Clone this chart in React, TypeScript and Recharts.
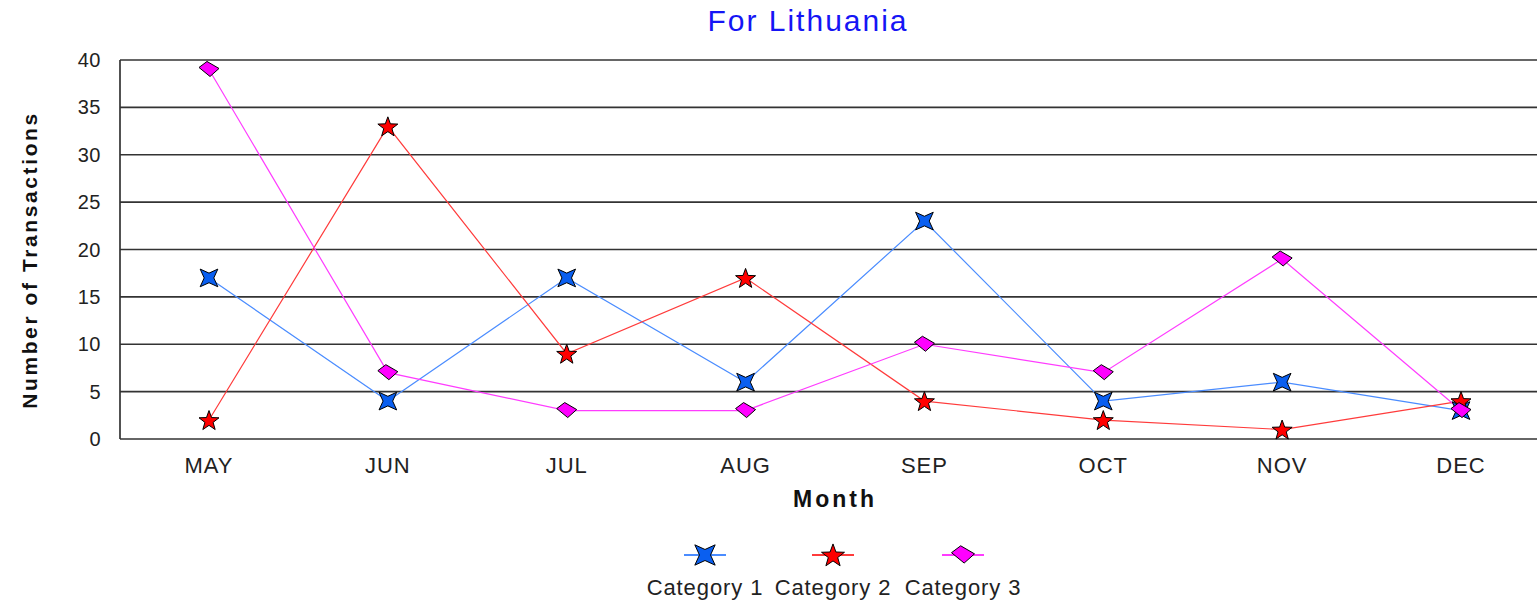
import React from 'react';
import { LineChart, Line, XAxis, YAxis, CartesianGrid, Label } from 'recharts';

const months = ['MAY', 'JUN', 'JUL', 'AUG', 'SEP', 'OCT', 'NOV', 'DEC'];
const category1 = [17, 4, 17, 6, 23, 4, 6, 3];
const category2 = [2, 33, 9, 17, 4, 2, 1, 4];
const category3 = [39, 7, 3, 3, 10, 7, 19, 3];
const yTicks = [0, 5, 10, 15, 20, 25, 30, 35, 40];
const seriesNames = ['Category 1', 'Category 2', 'Category 3'];

const data = months.map((m, i) => ({
  month: m,
  c1: category1[i],
  c2: category2[i],
  c3: category3[i],
}));

const FONT = 'Arial, "Liberation Sans", sans-serif';
const BLUE_LINE = '#4a8cff';
const BLUE_FILL = '#0a5ff0';
const RED_LINE = '#ff3b3b';
const RED_FILL = '#ff0000';
const MAG_LINE = '#ff3cff';
const MAG_FILL = '#ff00ff';

function starPoints(cx: number, cy: number, n: number, rOut: number, rIn: number, rot: number) {
  const pts: string[] = [];
  for (let i = 0; i < n * 2; i++) {
    const r = i % 2 === 0 ? rOut : rIn;
    const a = rot + (Math.PI * i) / n;
    pts.push(`${(cx + r * Math.sin(a)).toFixed(2)},${(cy - r * Math.cos(a)).toFixed(2)}`);
  }
  return pts.join(' ');
}

const Star4 = ({ cx, cy, scale = 1 }: any) => {
  if (cx == null || cy == null) return null;
  return (
    <polygon
      points={starPoints(cx, cy, 4, 12.5 * scale, 4.8 * scale, Math.PI / 4)}
      fill={BLUE_FILL}
      stroke="#000"
      strokeWidth={1}
    />
  );
};

const Star5 = ({ cx, cy, scale = 1 }: any) => {
  if (cx == null || cy == null) return null;
  return (
    <polygon
      points={starPoints(cx, cy + 1, 5, 10.5 * scale, 4.3 * scale, 0)}
      fill={RED_FILL}
      stroke="#000"
      strokeWidth={1}
    />
  );
};

const Diamond = ({ cx, cy, scale = 1 }: any) => {
  if (cx == null || cy == null) return null;
  const s = scale;
  const pts = `${cx - 10 * s},${cy - 2 * s} ${cx - 2 * s},${cy - 8 * s} ${cx + 10 * s},${cy - 1 * s} ${cx + 1 * s},${cy + 7 * s}`;
  return <polygon points={pts} fill={MAG_FILL} stroke="#000" strokeWidth={1} />;
};

const legendItems = [
  { name: seriesNames[0], line: BLUE_LINE, Icon: Star4, cx: 705 },
  { name: seriesNames[1], line: RED_LINE, Icon: Star5, cx: 833 },
  { name: seriesNames[2], line: MAG_LINE, Icon: Diamond, cx: 963 },
];

export default function App() {
  return (
    <div
      style={{
        position: 'fixed',
        left: 0,
        top: 0,
        width: 1537,
        height: 602,
        overflow: 'hidden',
        background: '#fff',
        fontFamily: FONT,
      }}
    >
      <div
        style={{
          position: 'absolute',
          left: 608,
          width: 400,
          top: 3,
          textAlign: 'center',
          color: '#1515f5',
          fontSize: 30,
          letterSpacing: 2,
          lineHeight: '36px',
        }}
      >
        For Lithuania
      </div>
      <LineChart
        width={1560}
        height={602}
        data={data}
        margin={{ top: 60, right: 10, bottom: 103, left: 0 }}
      >
        <CartesianGrid vertical={false} stroke="#333" strokeWidth={1.7} />
        <XAxis
          dataKey="month"
          height={60}
          padding={{ left: 89, right: 89 }}
          axisLine={false}
          tickLine={false}
          tickSize={0}
          tickMargin={18}
          interval={0}
          tick={{ fill: '#222', fontSize: 22, fontFamily: FONT, letterSpacing: 1 }}
        >
          <Label
            content={() => (
              <text
                x={835}
                y={499}
                textAnchor="middle"
                dominantBaseline="central"
                fontFamily={FONT}
                fontWeight="bold"
                fontSize={23}
                letterSpacing={3}
                fill="#111"
              >
                Month
              </text>
            )}
          />
        </XAxis>
        <YAxis
          width={120}
          domain={[0, 40]}
          ticks={yTicks}
          interval={0}
          axisLine={{ stroke: '#333', strokeWidth: 1.7 }}
          tickLine={false}
          tickSize={0}
          tickMargin={19}
          tick={{ fill: '#222', fontSize: 20, fontFamily: FONT, letterSpacing: 0.5 }}
        >
          <Label
            content={() => (
              <text
                x={29}
                y={260}
                transform="rotate(-90 29 260)"
                textAnchor="middle"
                dominantBaseline="central"
                fontFamily={FONT}
                fontWeight="bold"
                fontSize={21}
                letterSpacing={2.6}
                fill="#111"
              >
                Number of Transactions
              </text>
            )}
          />
        </YAxis>
        <Line
          type="linear"
          dataKey="c1"
          name={seriesNames[0]}
          stroke={BLUE_LINE}
          strokeWidth={1.2}
          dot={<Star4 />}
          activeDot={false}
          isAnimationActive={false}
        />
        <Line
          type="linear"
          dataKey="c2"
          name={seriesNames[1]}
          stroke={RED_LINE}
          strokeWidth={1.2}
          dot={<Star5 />}
          activeDot={false}
          isAnimationActive={false}
        />
        <Line
          type="linear"
          dataKey="c3"
          name={seriesNames[2]}
          stroke={MAG_LINE}
          strokeWidth={1.2}
          dot={<Diamond />}
          activeDot={false}
          isAnimationActive={false}
        />
      </LineChart>
      <svg
        style={{ position: 'absolute', left: 0, top: 530 }}
        width={1537}
        height={72}
      >
        {legendItems.map((it) => (
          <g key={it.name}>
            <line x1={it.cx - 21} x2={it.cx + 21} y1={25} y2={25} stroke={it.line} strokeWidth={2} />
            <it.Icon cx={it.cx} cy={25} scale={1.15} />
            <text
              x={it.cx}
              y={57}
              textAnchor="middle"
              dominantBaseline="central"
              fontFamily={FONT}
              fontSize={22}
              letterSpacing={0.9}
              fill="#222"
            >
              {it.name}
            </text>
          </g>
        ))}
      </svg>
    </div>
  );
}
